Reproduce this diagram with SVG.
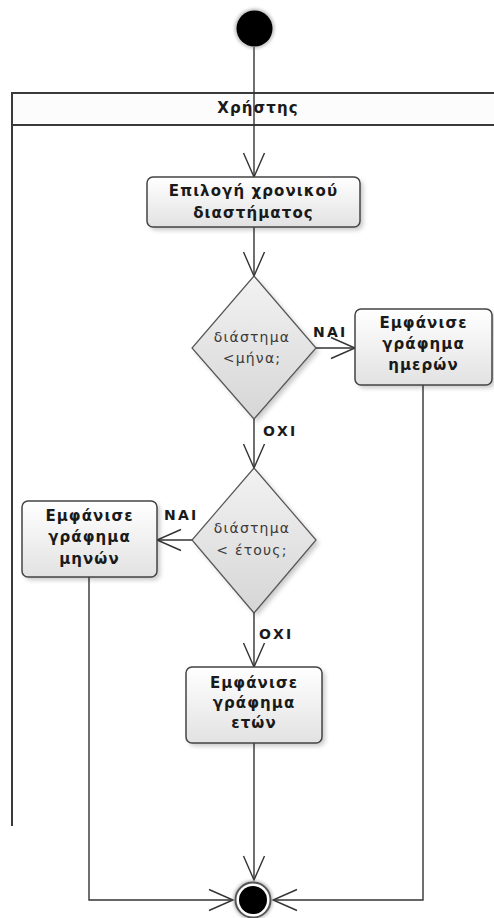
<svg xmlns="http://www.w3.org/2000/svg" width="494" height="918" viewBox="0 0 494 918">
  <style>
    .lane { fill: none; stroke: #3a3a3a; stroke-width: 2; }
    .act { fill: url(#actFill); stroke: #444; stroke-width: 1.5; }
    .dec { fill: url(#decFill); stroke: #555; stroke-width: 1.2; }
    .shadow { fill: #000; opacity: 0.22; filter: url(#soft); }
    .conn { fill: none; stroke: #333; stroke-width: 1.4; }
    .t { font-family: "DejaVu Sans", Verdana, sans-serif; font-size: 15px; font-weight: bold; fill: #1a1a1a; text-anchor: middle; letter-spacing: 1.1px; }
    .d { font-family: "DejaVu Sans", Verdana, sans-serif; font-size: 14px; fill: #3a3a3a; text-anchor: middle; letter-spacing: 1.2px; }
    .g { font-family: "DejaVu Sans", Verdana, sans-serif; font-size: 14px; font-weight: bold; fill: #1a1a1a; letter-spacing: 2.2px; }
  </style>
  <defs>
    <linearGradient id="actFill" x1="0" y1="0" x2="0" y2="1">
      <stop offset="0" stop-color="#ffffff"/>
      <stop offset="1" stop-color="#e2e2e2"/>
    </linearGradient>
    <linearGradient id="decFill" x1="0" y1="0" x2="0" y2="1">
      <stop offset="0" stop-color="#f2f2f2"/>
      <stop offset="1" stop-color="#d6d6d6"/>
    </linearGradient>
    <filter id="soft" x="-20%" y="-20%" width="140%" height="140%">
      <feGaussianBlur stdDeviation="2.5"/>
    </filter>
    <filter id="halo" x="-50%" y="-50%" width="200%" height="200%">
      <feGaussianBlur stdDeviation="1.8"/>
    </filter>
    <marker id="open" markerUnits="userSpaceOnUse" markerWidth="30" markerHeight="30" viewBox="-26 -13 30 26" refX="0" refY="0" orient="auto">
      <path d="M-24,-10.5 L0,0 L-24,10.5" fill="none" stroke="#333" stroke-width="1.4"/>
    </marker>
  </defs>

  <rect width="494" height="918" fill="#ffffff"/>

  <!-- swimlane -->
  <g id="lane">
    <rect x="12" y="93" width="490" height="32" fill="#fcfcfc"/>
    <path class="lane" d="M12,826 V93 H500 M12,125 H500"/>
    <text class="t" x="258" y="113">Χρήστης</text>
  </g>

  <!-- connectors -->
  <g id="connectors">
    <path class="conn" d="M254,47 V177" marker-end="url(#open)"/>
    <path class="conn" d="M254,227 V276" marker-end="url(#open)"/>
    <path class="conn" d="M316,348 H355" marker-end="url(#open)"/>
    <path class="conn" d="M254,419 V468" marker-end="url(#open)"/>
    <path class="conn" d="M192,540 H157" marker-end="url(#open)"/>
    <path class="conn" d="M254,613 V667" marker-end="url(#open)"/>
    <path class="conn" d="M254,743 V880" marker-end="url(#open)"/>
    <path class="conn" d="M89,577 V900 H233" marker-end="url(#open)"/>
    <path class="conn" d="M423,385 V900 H273" marker-end="url(#open)"/>
    <text class="g" x="313" y="337">ΝΑΙ</text>
    <text class="g" x="263" y="436">ΟΧΙ</text>
    <text class="g" x="164" y="520">ΝΑΙ</text>
    <text class="g" x="259" y="639">ΟΧΙ</text>
  </g>

  <!-- start -->
  <g id="start">
    <circle cx="254.5" cy="28.5" r="20" fill="#888" opacity="0.5" filter="url(#halo)"/>
    <circle cx="254.5" cy="28.5" r="18" fill="#000"/>
  </g>

  <g id="select">
    <rect class="shadow" x="150" y="180" width="213" height="50" rx="6"/>
    <rect class="act" x="147" y="177" width="213" height="50" rx="6"/>
    <text class="t" x="253.5" y="196">Επιλογή χρονικού</text>
    <text class="t" x="253.5" y="218">διαστήματος</text>
  </g>

  <g id="dec-month">
    <path class="shadow" d="M257,279 L319,351 L257,422 L195,351 Z"/>
    <path class="dec" d="M254,276 L316,348 L254,419 L192,348 Z"/>
    <text class="d" x="252" y="342">διάστημα</text>
    <text class="d" x="252" y="363">&lt;μήνα;</text>
  </g>

  <g id="days">
    <rect class="shadow" x="358" y="312" width="137" height="76" rx="6"/>
    <rect class="act" x="355" y="309" width="137" height="76" rx="6"/>
    <text class="t" x="423.5" y="328">Εμφάνισε</text>
    <text class="t" x="423.5" y="349">γράφημα</text>
    <text class="t" x="423.5" y="370">ημερών</text>
  </g>

  <g id="dec-year">
    <path class="shadow" d="M257,471 L319,543 L257,616 L195,543 Z"/>
    <path class="dec" d="M254,468 L316,540 L254,613 L192,540 Z"/>
    <text class="d" x="252" y="533">διάστημα</text>
    <text class="d" x="252" y="555">&lt; έτους;</text>
  </g>

  <g id="months">
    <rect class="shadow" x="25" y="504" width="135" height="76" rx="6"/>
    <rect class="act" x="22" y="501" width="135" height="76" rx="6"/>
    <text class="t" x="89.5" y="521">Εμφάνισε</text>
    <text class="t" x="89.5" y="542">γράφημα</text>
    <text class="t" x="89.5" y="564">μηνών</text>
  </g>

  <g id="years">
    <rect class="shadow" x="189" y="670" width="136" height="76" rx="6"/>
    <rect class="act" x="186" y="667" width="136" height="76" rx="6"/>
    <text class="t" x="254" y="688">Εμφάνισε</text>
    <text class="t" x="254" y="708">γράφημα</text>
    <text class="t" x="254" y="728">ετών</text>
  </g>

  <!-- final -->
  <g id="final">
    <circle cx="253" cy="900" r="20" fill="#888" opacity="0.5" filter="url(#halo)"/>
    <circle cx="253" cy="900" r="17.5" fill="#fff" stroke="#555" stroke-width="2"/>
    <circle cx="253" cy="900" r="14" fill="#000"/>
  </g>
</svg>
